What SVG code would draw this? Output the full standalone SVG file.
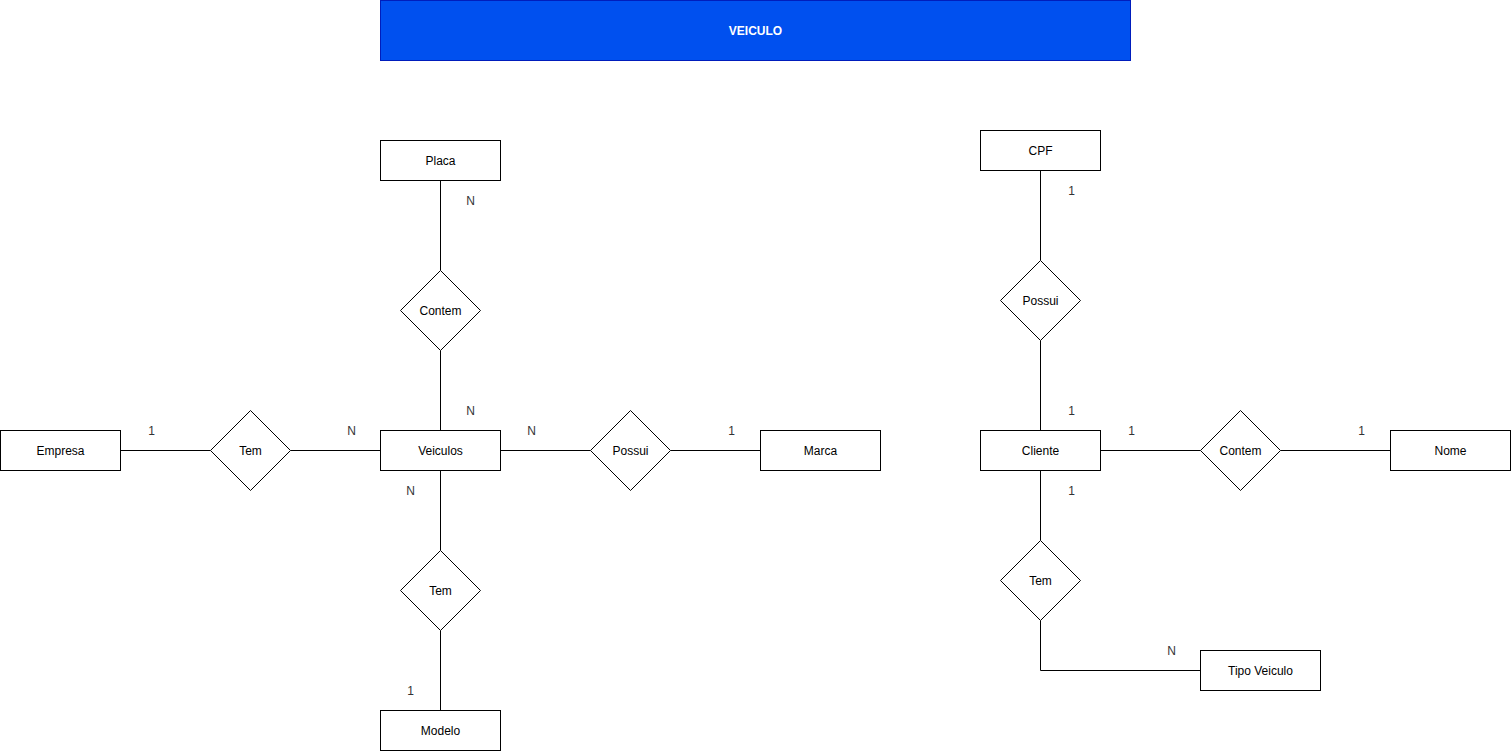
<svg xmlns="http://www.w3.org/2000/svg" width="1511" height="751" viewBox="0 0 1511 751">
<style>
.e{fill:#fff;stroke:#000;stroke-width:1}
.t{font-family:"Liberation Sans",Arial,sans-serif;font-size:12px;fill:#000;text-anchor:middle;dominant-baseline:central}
.l{font-family:"Liberation Sans",Arial,sans-serif;font-size:12px;fill:#333;text-anchor:middle;dominant-baseline:central}
.c{fill:none;stroke:#000;stroke-width:1}
</style>
<rect width="1511" height="751" fill="#fff"/>
<g id="header">
<rect x="380.5" y="0.5" width="750" height="60" fill="#0050EF" stroke="#001DBC"/>
<text x="755.5" y="30.5" class="t" style="fill:#fff;font-weight:bold">VEICULO</text>
</g>
<g id="connectors">
<path class="c" d="M440.5 180.5V270.5M440.5 350.5V430.5M120.5 450.5H210.5M290.5 450.5H380.5M500.5 450.5H590.5M670.5 450.5H760.5M440.5 470.5V550.5M440.5 630.5V710.5M1040.5 170.5V260.5M1040.5 340.5V430.5M1100.5 450.5H1200.5M1280.5 450.5H1390.5M1040.5 470.5V540.5M1040.5 620.5V670.5H1200.5"/>
</g>
<g id="labels">
<text class="l" x="470.5" y="200.5">N</text>
<text class="l" x="470.5" y="410.5">N</text>
<text class="l" x="151.5" y="430.5">1</text>
<text class="l" x="351.5" y="430.5">N</text>
<text class="l" x="531.5" y="430.5">N</text>
<text class="l" x="731.5" y="430.5">1</text>
<text class="l" x="410.5" y="490.5">N</text>
<text class="l" x="410.5" y="690.5">1</text>
<text class="l" x="1071.5" y="190.5">1</text>
<text class="l" x="1071.5" y="410.5">1</text>
<text class="l" x="1131.5" y="430.5">1</text>
<text class="l" x="1361.5" y="430.5">1</text>
<text class="l" x="1071.5" y="490.5">1</text>
<text class="l" x="1171.5" y="650.5">N</text>
</g>
<g id="placa"><rect class="e" x="380.5" y="140.5" width="120" height="40"/><text class="t" x="440.5" y="160.5">Placa</text></g>
<g id="veiculos"><rect class="e" x="380.5" y="430.5" width="120" height="40"/><text class="t" x="440.5" y="450.5">Veiculos</text></g>
<g id="empresa"><rect class="e" x="0.5" y="430.5" width="120" height="40"/><text class="t" x="60.5" y="450.5">Empresa</text></g>
<g id="marca"><rect class="e" x="760.5" y="430.5" width="120" height="40"/><text class="t" x="820.5" y="450.5">Marca</text></g>
<g id="modelo"><rect class="e" x="380.5" y="710.5" width="120" height="40"/><text class="t" x="440.5" y="730.5">Modelo</text></g>
<g id="cpf"><rect class="e" x="980.5" y="130.5" width="120" height="40"/><text class="t" x="1040.5" y="150.5">CPF</text></g>
<g id="cliente"><rect class="e" x="980.5" y="430.5" width="120" height="40"/><text class="t" x="1040.5" y="450.5">Cliente</text></g>
<g id="nome"><rect class="e" x="1390.5" y="430.5" width="120" height="40"/><text class="t" x="1450.5" y="450.5">Nome</text></g>
<g id="tipoveiculo"><rect class="e" x="1200.5" y="650.5" width="120" height="40"/><text class="t" x="1260.5" y="670.5">Tipo Veiculo</text></g>
<g id="contem1"><path class="e" d="M440.5 270.5L480.5 310.5L440.5 350.5L400.5 310.5Z"/><text class="t" x="440.5" y="310.5">Contem</text></g>
<g id="tem1"><path class="e" d="M250.5 410.5L290.5 450.5L250.5 490.5L210.5 450.5Z"/><text class="t" x="250.5" y="450.5">Tem</text></g>
<g id="possui1"><path class="e" d="M630.5 410.5L670.5 450.5L630.5 490.5L590.5 450.5Z"/><text class="t" x="630.5" y="450.5">Possui</text></g>
<g id="tem2"><path class="e" d="M440.5 550.5L480.5 590.5L440.5 630.5L400.5 590.5Z"/><text class="t" x="440.5" y="590.5">Tem</text></g>
<g id="possui2"><path class="e" d="M1040.5 260.5L1080.5 300.5L1040.5 340.5L1000.5 300.5Z"/><text class="t" x="1040.5" y="300.5">Possui</text></g>
<g id="contem2"><path class="e" d="M1240.5 410.5L1280.5 450.5L1240.5 490.5L1200.5 450.5Z"/><text class="t" x="1240.5" y="450.5">Contem</text></g>
<g id="tem3"><path class="e" d="M1040.5 540.5L1080.5 580.5L1040.5 620.5L1000.5 580.5Z"/><text class="t" x="1040.5" y="580.5">Tem</text></g>
</svg>
